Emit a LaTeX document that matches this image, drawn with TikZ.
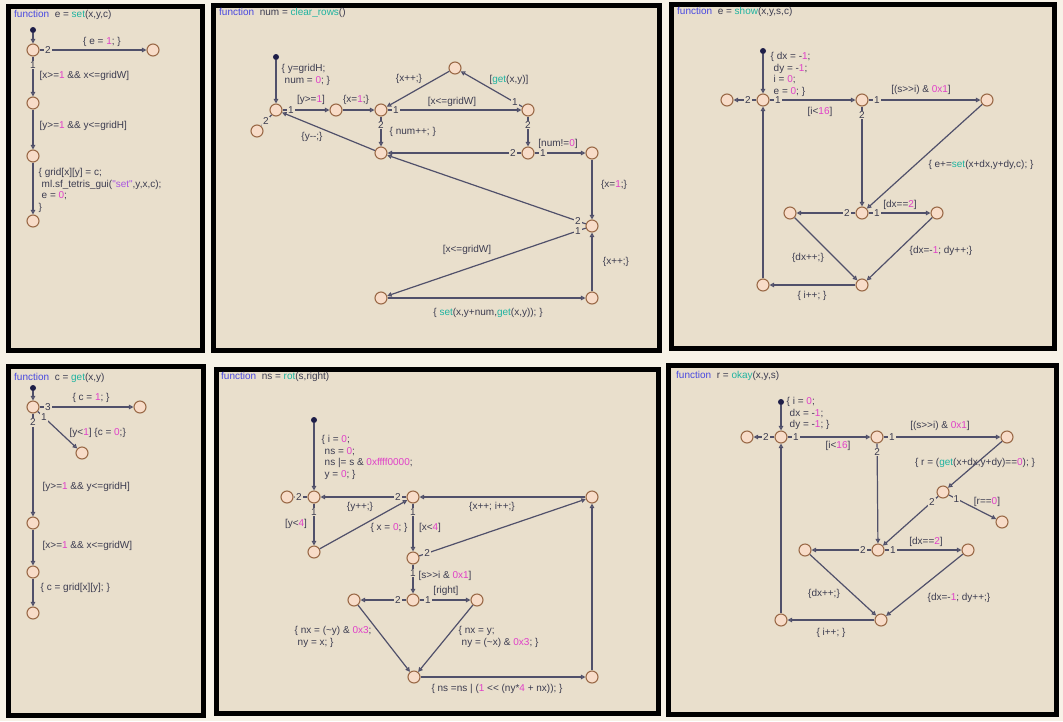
\documentclass[tikz,border=0pt]{standalone}
\usepackage{fontspec}
\setmainfont{Liberation Sans}[Ligatures=TeXOff]
\usetikzlibrary{calc, arrows.meta}

\begin{document}
\begin{tikzpicture}[x=1pt, y=-1pt,
    panel/.style={draw=black, line width=5pt, fill=panelColour},
    title/.style={anchor=west, inner sep=0pt, text=textColour},
    junc/.style={circle, draw=juncBorder, fill=juncColour, line width=1.1pt, minimum size=12pt, inner sep=0pt},
    dflt/.style={circle, fill=dotColour, minimum size=6pt, inner sep=0pt},
    tr/.style={draw=lineColour, line width=1.2pt, -{Triangle[open, length=4.5pt, width=4.5pt]}},
    lbl/.style={inner sep=0.5pt, text=textColour},
    multi/.style={lbl, anchor=north west, align=left},
    prio/.style={inner sep=1pt, fill=panelColour, text=textColour},
    every node/.append style={font=\fontsize{10}{11.5}\selectfont}]

    \definecolor{pageColour}{HTML}{F7F2E7}
    \definecolor{panelColour}{HTML}{E9DFCC}
    \definecolor{lineColour}{HTML}{50506A}
    \definecolor{juncColour}{HTML}{F8DCC8}
    \definecolor{juncBorder}{HTML}{9A6A48}
    \definecolor{dotColour}{HTML}{1E1E48}
    \definecolor{textColour}{HTML}{3C3C50}
    \definecolor{numColour}{HTML}{E040C8}
    \definecolor{funColour}{HTML}{1FB3A0}
    \definecolor{kwColour}{HTML}{4848E0}
    \definecolor{strColour}{HTML}{A855E0}

    % Colour helpers and priority numbers
    \def\cn#1{\textcolor{numColour}{#1}}
    \def\cf#1{\textcolor{funColour}{#1}}
    \def\kw{\textcolor{kwColour}{function}~~}
    \def\ind{\hspace*{3pt}}
    \def\prio#1#2#3{\node[prio] at ($(#1)!15pt!(#2)$) {#3};}

    % Page and panels
    \fill[pageColour] (0,0) rectangle (1063,721);
    \useasboundingbox (0,0) rectangle (1063,721);
    \draw[panel] (8,6) rectangle (202,350);
    \draw[panel] (213,5) rectangle (659,350);
    \draw[panel] (671,4) rectangle (1054,348);
    \draw[panel] (8,366) rectangle (203,715);
    \draw[panel] (216,369) rectangle (658,713);
    \draw[panel] (668,365) rectangle (1056,714);

    % ---------- e = set(x,y,c) ----------
    \node[title] at (14,15) {\kw e = \cf{set}(x,y,c)};
    \node[dflt] (sDot) at (33,30) {};
    \node[junc] (sA) at (33,50) {};
    \node[junc] (sB) at (153,50) {};
    \node[junc] (sC) at (33,103) {};
    \node[junc] (sD) at (33,156) {};
    \node[junc] (sE) at (33,221) {};
    \draw[tr] (sDot) -- (sA);
    \draw[tr] (sA) -- (sB);
    \draw[tr] (sA) -- (sC);
    \draw[tr] (sC) -- (sD);
    \draw[tr] (sD) -- (sE);
    \prio{sA}{sB}{2}
    \prio{sA}{sC}{1}
    \node[lbl] at (102,42) {\{ e = \cn{1}; \}};
    \node[lbl, anchor=west] at (39,76) {[x>=\cn{1} \&\& x<=gridW]};
    \node[lbl, anchor=west] at (39,126) {[y>=\cn{1} \&\& y<=gridH]};
    \node[multi] at (38,168) {\{ grid[x][y] = c;\\\ind ml.sf\_tetris\_gui(\textcolor{strColour}{"set"},y,x,c);\\\ind e = \cn{0};\\\}};

    % ---------- num = clear_rows() ----------
    \node[title] at (219,13) {\kw num = \cf{clear\_rows}()};
    \node[dflt] (cDot) at (276,57) {};
    \node[junc] (cA) at (276,110) {};
    \node[junc] (cOut) at (257,131) {};
    \node[junc] (cB) at (336,110) {};
    \node[junc] (cC) at (381,110) {};
    \node[junc] (cD) at (528,110) {};
    \node[junc] (cE) at (455,68) {};
    \node[junc] (cF) at (381,153) {};
    \node[junc] (cG) at (528,153) {};
    \node[junc] (cH) at (592,153) {};
    \node[junc] (cI) at (592,226) {};
    \node[junc] (cK) at (381,298) {};
    \node[junc] (cL) at (592,298) {};
    \draw[tr] (cDot) -- (cA);
    \draw[tr] (cA) -- (cB);
    \draw[tr] (cA) -- (cOut);
    \draw[tr] (cB) -- (cC);
    \draw[tr] (cC) -- (cD);
    \draw[tr] (cC) -- (cF);
    \draw[tr] (cD) -- (cE);
    \draw[tr] (cE) -- (cC);
    \draw[tr] (cD) -- (cG);
    \draw[tr] (cG) -- (cF);
    \draw[tr] (cG) -- (cH);
    \draw[tr] (cH) -- (cI);
    \draw[tr] (cI) -- (cF);
    \draw[tr] (cF) -- (cA);
    \draw[tr] (cI) -- (cK);
    \draw[tr] (cK) -- (cL);
    \draw[tr] (cL) -- (cI);
    \prio{cA}{cB}{1}
    \prio{cA}{cOut}{2}
    \prio{cC}{cD}{1}
    \prio{cC}{cF}{2}
    \prio{cD}{cE}{1}
    \prio{cD}{cG}{2}
    \prio{cG}{cF}{2}
    \prio{cG}{cH}{1}
    \prio{cI}{cF}{2}
    \prio{cI}{cK}{1}
    \node[multi] at (281,64) {\{ y=gridH;\\\ind num = \cn{0}; \}};
    \node[lbl] at (311,100) {[y>=\cn{1}]};
    \node[lbl] at (356,100) {\{x=\cn{1};\}};
    \node[lbl] at (452,102) {[x<=gridW]};
    \node[lbl] at (509,80) {[\cf{get}(x,y)]};
    \node[lbl] at (409,79) {\{x++;\}};
    \node[lbl, anchor=west] at (389,132) {\{ num++; \}};
    \node[lbl] at (558,144) {[num!=\cn{0}]};
    \node[lbl] at (614,185) {\{x=\cn{1};\}};
    \node[lbl] at (312,137) {\{y--;\}};
    \node[lbl] at (467,250) {[x<=gridW]};
    \node[lbl] at (488,313) {\{ \cf{set}(x,y+num,\cf{get}(x,y)); \}};
    \node[lbl] at (616,262) {\{x++;\}};

    % ---------- e = show(x,y,s,c) ----------
    \node[title] at (677,12) {\kw e = \cf{show}(x,y,s,c)};
    \node[dflt] (wDot) at (763,51) {};
    \node[junc] (wA) at (763,100) {};
    \node[junc] (wOut) at (727,100) {};
    \node[junc] (wB) at (862,100) {};
    \node[junc] (wC) at (987,100) {};
    \node[junc] (wD) at (862,213) {};
    \node[junc] (wE) at (790,213) {};
    \node[junc] (wF) at (937,213) {};
    \node[junc] (wG) at (862,285) {};
    \node[junc] (wH) at (763,285) {};
    \draw[tr] (wDot) -- (wA);
    \draw[tr] (wA) -- (wOut);
    \draw[tr] (wA) -- (wB);
    \draw[tr] (wB) -- (wC);
    \draw[tr] (wB) -- (wD);
    \draw[tr] (wC) -- (wD);
    \draw[tr] (wD) -- (wE);
    \draw[tr] (wD) -- (wF);
    \draw[tr] (wE) -- (wG);
    \draw[tr] (wF) -- (wG);
    \draw[tr] (wG) -- (wH);
    \draw[tr] (wH) -- (wA);
    \prio{wA}{wOut}{2}
    \prio{wA}{wB}{1}
    \prio{wB}{wC}{1}
    \prio{wB}{wD}{2}
    \prio{wD}{wE}{2}
    \prio{wD}{wF}{1}
    \node[multi] at (770,52) {\{ dx = -\cn{1};\\\ind dy = -\cn{1};\\\ind i = \cn{0};\\\ind e = \cn{0}; \}};
    \node[lbl] at (820,112) {[i<\cn{16}]};
    \node[lbl] at (921,90) {[(s>>i) \& \cn{0x1}]};
    \node[lbl] at (981,165) {\{ e+=\cf{set}(x+dx,y+dy,c); \}};
    \node[lbl] at (900,205) {[dx==\cn{2}]};
    \node[lbl] at (808,258) {\{dx++;\}};
    \node[lbl] at (941,251) {\{dx=-\cn{1}; dy++;\}};
    \node[lbl] at (812,296) {\{ i++; \}};

    % ---------- c = get(x,y) ----------
    \node[title] at (14,378) {\kw c = \cf{get}(x,y)};
    \node[dflt] (gDot) at (33,388) {};
    \node[junc] (gA) at (33,407) {};
    \node[junc] (gB) at (140,407) {};
    \node[junc] (gC) at (82,453) {};
    \node[junc] (gD) at (33,523) {};
    \node[junc] (gE) at (33,572) {};
    \node[junc] (gF) at (33,613) {};
    \draw[tr] (gDot) -- (gA);
    \draw[tr] (gA) -- (gB);
    \draw[tr] (gA) -- (gC);
    \draw[tr] (gA) -- (gD);
    \draw[tr] (gD) -- (gE);
    \draw[tr] (gE) -- (gF);
    \prio{gA}{gB}{3}
    \prio{gA}{gC}{1}
    \prio{gA}{gD}{2}
    \node[lbl] at (91,398) {\{ c = \cn{1}; \}};
    \node[lbl, anchor=west] at (69,433) {[y<\cn{1}] \{c = \cn{0};\}};
    \node[lbl, anchor=west] at (42,487) {[y>=\cn{1} \&\& y<=gridH]};
    \node[lbl, anchor=west] at (42,546) {[x>=\cn{1} \&\& x<=gridW]};
    \node[lbl, anchor=west] at (40,588) {\{ c = grid[x][y]; \}};

    % ---------- ns = rot(s,right) ----------
    \node[title] at (221,377) {\kw ns = \cf{rot}(s,right)};
    \node[dflt] (rDot) at (314,420) {};
    \node[junc] (rA) at (314,497) {};
    \node[junc] (rOut) at (287,497) {};
    \node[junc] (rB) at (314,552) {};
    \node[junc] (rC) at (413,497) {};
    \node[junc] (rD) at (592,497) {};
    \node[junc] (rE) at (413,558) {};
    \node[junc] (rF) at (413,600) {};
    \node[junc] (rG) at (354,600) {};
    \node[junc] (rH) at (477,600) {};
    \node[junc] (rI) at (414,677) {};
    \node[junc] (rJ) at (592,677) {};
    \draw[tr] (rDot) -- (rA);
    \draw[tr] (rA) -- (rOut);
    \draw[tr] (rA) -- (rB);
    \draw[tr] (rB) -- (rC);
    \draw[tr] (rC) -- (rA);
    \draw[tr] (rC) -- (rE);
    \draw[tr] (rE) -- (rD);
    \draw[tr] (rD) -- (rC);
    \draw[tr] (rE) -- (rF);
    \draw[tr] (rF) -- (rG);
    \draw[tr] (rF) -- (rH);
    \draw[tr] (rG) -- (rI);
    \draw[tr] (rH) -- (rI);
    \draw[tr] (rI) -- (rJ);
    \draw[tr] (rJ) -- (rD);
    \prio{rA}{rOut}{2}
    \prio{rA}{rB}{1}
    \prio{rC}{rA}{2}
    \prio{rC}{rE}{1}
    \prio{rE}{rD}{2}
    \prio{rE}{rF}{1}
    \prio{rF}{rG}{2}
    \prio{rF}{rH}{1}
    \node[multi] at (321,435) {\{ i = \cn{0};\\\ind ns = \cn{0};\\\ind ns |= s \& \cn{0xffff0000};\\\ind y = \cn{0}; \}};
    \node[lbl] at (296,524) {[y<\cn{4}]};
    \node[lbl] at (389,528) {\{ x = \cn{0}; \}};
    \node[lbl] at (360,507) {\{y++;\}};
    \node[lbl] at (492,507) {\{x++; i++;\}};
    \node[lbl] at (430,528) {[x<\cn{4}]};
    \node[lbl, anchor=west] at (418,576) {[s>>i \& \cn{0x1}]};
    \node[lbl] at (446,591) {[right]};
    \node[multi] at (294,626) {\{ nx = (\textasciitilde y) \& \cn{0x3};\\\ind ny = x; \}};
    \node[multi] at (458,626) {\{ nx = y;\\\ind ny = (\textasciitilde x) \& \cn{0x3}; \}};
    \node[lbl] at (497,689) {\{ ns =ns | (\cn{1} << (ny*\cn{4} + nx)); \}};

    % ---------- r = okay(x,y,s) ----------
    \node[title] at (676,376) {\kw r = \cf{okay}(x,y,s)};
    \node[dflt] (oDot) at (781,402) {};
    \node[junc] (oA) at (781,437) {};
    \node[junc] (oOut) at (747,437) {};
    \node[junc] (oB) at (877,437) {};
    \node[junc] (oC) at (1007,437) {};
    \node[junc] (oE) at (943,492) {};
    \node[junc] (oK) at (1002,522) {};
    \node[junc] (oD) at (878,550) {};
    \node[junc] (oF) at (805,550) {};
    \node[junc] (oG) at (968,550) {};
    \node[junc] (oH) at (881,620) {};
    \node[junc] (oI) at (781,620) {};
    \draw[tr] (oDot) -- (oA);
    \draw[tr] (oA) -- (oOut);
    \draw[tr] (oA) -- (oB);
    \draw[tr] (oB) -- (oC);
    \draw[tr] (oB) -- (oD);
    \draw[tr] (oC) -- (oE);
    \draw[tr] (oE) -- (oK);
    \draw[tr] (oE) -- (oD);
    \draw[tr] (oD) -- (oF);
    \draw[tr] (oD) -- (oG);
    \draw[tr] (oF) -- (oH);
    \draw[tr] (oG) -- (oH);
    \draw[tr] (oH) -- (oI);
    \draw[tr] (oI) -- (oA);
    \prio{oA}{oOut}{2}
    \prio{oA}{oB}{1}
    \prio{oB}{oC}{1}
    \prio{oB}{oD}{2}
    \prio{oE}{oK}{1}
    \prio{oE}{oD}{2}
    \prio{oD}{oF}{2}
    \prio{oD}{oG}{1}
    \node[multi] at (786,397) {\{ i = \cn{0};\\\ind dx = -\cn{1};\\\ind dy = -\cn{1}; \}};
    \node[lbl] at (838,446) {[i<\cn{16}]};
    \node[lbl] at (940,426) {[(s>>i) \& \cn{0x1}]};
    \node[lbl] at (975,463) {\{ r = (\cf{get}(x+dx,y+dy)==\cn{0}); \}};
    \node[lbl] at (987,502) {[r==\cn{0}]};
    \node[lbl] at (926,542) {[dx==\cn{2}]};
    \node[lbl] at (824,594) {\{dx++;\}};
    \node[lbl] at (959,598) {\{dx=-\cn{1}; dy++;\}};
    \node[lbl] at (831,633) {\{ i++; \}};

\end{tikzpicture}
\end{document}
